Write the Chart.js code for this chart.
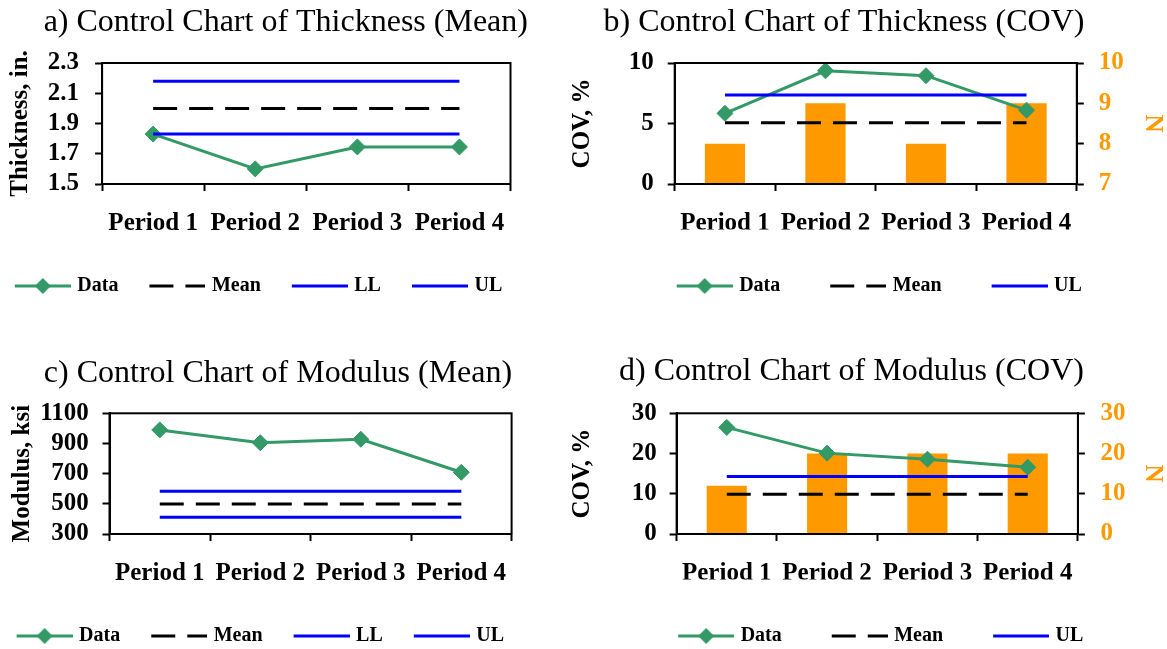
<!DOCTYPE html>
<html>
<head>
<meta charset="utf-8">
<title>Control Charts</title>
<script src="https://cdn.jsdelivr.net/npm/chart.js@4.4.1/dist/chart.umd.min.js"></script>
<style>
  html, body { margin: 0; padding: 0; background: #fff; overflow: hidden; }
  body { position: relative; width: 1167px; height: 649px; }
  canvas { position: absolute; }
</style>
</head>
<body>
<canvas id="chartA" width="608" height="306" style="left:-20px;top:0px"></canvas>
<canvas id="chartB" width="611" height="306" style="left:556px;top:0px"></canvas>
<canvas id="chartC" width="608" height="306" style="left:-20px;top:350px"></canvas>
<canvas id="chartD" width="611" height="306" style="left:556px;top:350px"></canvas>
<script>
// ---- data ----
const periods = ['Period 1', 'Period 2', 'Period 3', 'Period 4'];

// a) thickness, mean
const thickMean   = [1.83, 1.60, 1.745, 1.745];
const thickMeanCL = [2.00, 2.00, 2.00, 2.00];
const thickMeanLL = [1.83, 1.83, 1.83, 1.83];
const thickMeanUL = [2.18, 2.18, 2.18, 2.18];
const thickMeanTicks = [1.5, 1.7, 1.9, 2.1, 2.3];

// b) thickness, COV
const thickCov   = [5.84, 9.36, 8.95, 6.1];
const thickCovCL = [5.07, 5.07, 5.07, 5.07];
const thickCovUL = [7.36, 7.36, 7.36, 7.36];
const thickN     = [8, 9, 8, 9];
const thickCovTicks = [0, 5, 10];
const thickNTicks   = [7, 8, 9, 10];

// c) modulus, mean
const modMean   = [990, 905, 928, 709];
const modMeanCL = [499, 499, 499, 499];
const modMeanLL = [411, 411, 411, 411];
const modMeanUL = [583, 583, 583, 583];
const modMeanTicks = [300, 500, 700, 900, 1100];

// d) modulus, COV
const modCov   = [26.5, 20.1, 18.6, 16.6];
const modCovCL = [9.9, 9.9, 9.9, 9.9];
const modCovUL = [14.3, 14.3, 14.3, 14.3];
const modN     = [12, 20, 20, 20];
const modCovTicks = [0, 10, 20, 30];
const modNTicks   = [0, 10, 20, 30];

// ---- styling ----
const GREEN = '#339966', BLUE = '#0000FF', ORANGE = '#FF9900', BLACK = '#000000';
Chart.defaults.font.family = "'Liberation Serif', 'Times New Roman', serif";
Chart.defaults.color = BLACK;

// small legend swatch (line + marker), used as the legend pointStyle
function swatch(kind) {
    const c = document.createElement('canvas');
    c.width = 63; c.height = 20;
    const g = c.getContext('2d');
    g.lineWidth = 3;
    g.strokeStyle = kind === 'data' ? GREEN : (kind === 'mean' ? BLACK : BLUE);
    if (kind === 'mean') g.setLineDash([24, 12]);
    g.beginPath(); g.moveTo(7, 10); g.lineTo(63, 10); g.stroke();
    if (kind === 'data') {
        g.fillStyle = GREEN;
        g.beginPath();
        g.moveTo(35, 2); g.lineTo(43, 10); g.lineTo(35, 18); g.lineTo(27, 10);
        g.closePath(); g.fill();
    }
    return c;
}

function dataSet(values) {
    return {
        type: 'line', label: 'Data', data: values, yAxisID: 'y', order: 2,
        borderColor: GREEN, backgroundColor: GREEN, borderWidth: 3, tension: 0,
        pointStyle: 'rectRot', pointRadius: 8, pointBorderWidth: 1,
        pointBackgroundColor: GREEN, pointBorderColor: GREEN,
        swatch: swatch('data')
    };
}

function limitSet(label, values, kind) {
    return {
        type: 'line', label: label, data: values, yAxisID: 'y', order: kind === 'mean' ? 1 : 0,
        borderColor: kind === 'mean' ? BLACK : BLUE, borderWidth: 3,
        borderDash: kind === 'mean' ? [24, 12] : [], pointRadius: 0, tension: 0,
        swatch: swatch(kind)
    };
}

function countSet(values) {
    return {
        type: 'bar', label: 'N', data: values, yAxisID: 'yN', order: 3,
        backgroundColor: ORANGE, barPercentage: 0.4, categoryPercentage: 1
    };
}

function yAxis(pos, tickVals, fmt, width, titleText, titlePad, tickPad, color) {
    return {
        position: pos,
        min: tickVals[0],
        max: tickVals[tickVals.length - 1],
        afterBuildTicks: s => { s.ticks = tickVals.map(v => ({ value: v })); },
        afterFit: s => { s.width = width; },
        border: { display: true, color: BLACK, width: 2 },
        grid: { drawOnChartArea: false, tickLength: 7, tickWidth: 2, tickColor: BLACK },
        ticks: { color: color, padding: tickPad, autoSkip: false,
                 font: { size: 25, weight: 'bold' }, callback: v => fmt(v) },
        title: { display: true, text: titleText, color: color, padding: { top: titlePad, bottom: 0 },
                 font: { size: 25, weight: 'bold' } }
    };
}

// draws the plot-area box (top and right edges included)
const framePlugin = {
    id: 'frame',
    afterDatasetsDraw(chart) {
        const { ctx, chartArea: a } = chart;
        ctx.save();
        ctx.strokeStyle = BLACK;
        ctx.lineWidth = 2;
        ctx.strokeRect(a.left, a.top, a.right - a.left, a.bottom - a.top);
        ctx.restore();
    }
};

function makePanel(id, p) {
    const scales = {
        x: {
            offset: true,
            grid: { offset: true, drawOnChartArea: false, tickLength: 7, tickWidth: 2, tickColor: BLACK },
            border: { color: BLACK, width: 2 },
            ticks: { padding: 17.5, maxRotation: 0, autoSkip: false, font: { size: 25, weight: 'bold' } },
            afterFit: s => { s.height = p.xHeight; }
        },
        y: yAxis('left', p.yTicks, p.fmt, p.leftW, p.yTitle, p.yTitlePad, p.yTickPad, BLACK)
    };
    if (p.nTicks) {
        scales.yN = yAxis('right', p.nTicks, v => String(v), p.rightW, 'N', p.nTitlePad, p.nTickPad, ORANGE);
    } else {
        // empty right box, only keeps the layout in place
        scales.yR = { position: 'right', display: true, grid: { display: false },
                      border: { display: false }, ticks: { display: false },
                      afterFit: s => { s.width = p.rightW; } };
    }

    new Chart(document.getElementById(id), {
        type: 'line',
        data: { labels: periods, datasets: p.datasets },
        options: {
            responsive: false,
            devicePixelRatio: 1,
            animation: false,
            events: [],
            layout: { padding: { left: p.padL, right: p.padR, top: 0, bottom: 0 } },
            scales: scales,
            plugins: {
                tooltip: { enabled: false },
                title: { display: true, text: p.title, color: BLACK,
                         font: { size: 32, weight: 'normal' },
                         padding: { top: p.titleTop, bottom: p.titleBottom } },
                legend: {
                    position: 'bottom',
                    align: p.legendAlign,
                    labels: {
                        usePointStyle: true,
                        pointStyleWidth: 56,
                        padding: p.legendPad,
                        color: BLACK,
                        font: { size: 20, weight: 'bold' },
                        generateLabels: chart => chart.data.datasets
                            .map((ds, i) => ({ text: ds.label, pointStyle: ds.swatch, datasetIndex: i,
                                               hidden: false, lineWidth: 0, fontColor: BLACK,
                                               strokeStyle: 'rgba(0,0,0,0)', fillStyle: 'rgba(0,0,0,0)' }))
                            .filter(item => item.pointStyle)
                    }
                }
            }
        },
        plugins: [framePlugin]
    });
}

makePanel('chartA', {
    title: 'a) Control Chart of Thickness (Mean)',
    yTitle: 'Thickness, in.', yTicks: thickMeanTicks, fmt: v => v.toFixed(1),
    datasets: [dataSet(thickMean), limitSet('Mean', thickMeanCL, 'mean'),
               limitSet('LL', thickMeanLL, 'limit'), limitSet('UL', thickMeanUL, 'limit')],
    padL: 3.8, padR: 0.2, leftW: 118.3, rightW: 77.3,
    yTitlePad: 21.5, yTickPad: 16,
    titleTop: 3, titleBottom: 21.6, xHeight: 64.5,
    legendAlign: 'start', legendPad: 27.5
});

makePanel('chartB', {
    title: 'b) Control Chart of Thickness (COV)',
    yTitle: 'COV, %', yTicks: thickCovTicks, fmt: v => String(v),
    nTicks: thickNTicks,
    datasets: [dataSet(thickCov), limitSet('Mean', thickCovCL, 'mean'),
               limitSet('UL', thickCovUL, 'limit'), countSet(thickN)],
    padL: 3.6, padR: 38.6, leftW: 115.1, rightW: 51.6,
    yTitlePad: 8.4, yTickPad: 14, nTitlePad: -39.4, nTickPad: 15,
    titleTop: 3, titleBottom: 21.6, xHeight: 45.5,
    legendAlign: 'end', legendPad: 46.5
});

makePanel('chartC', {
    title: 'c) Control Chart of Modulus (Mean)',
    yTitle: 'Modulus, ksi', yTicks: modMeanTicks, fmt: v => String(v),
    datasets: [dataSet(modMean), limitSet('Mean', modMeanCL, 'mean'),
               limitSet('LL', modMeanLL, 'limit'), limitSet('UL', modMeanUL, 'limit')],
    padL: 5.6, padR: 17.6, leftW: 123.9, rightW: 58.8,
    yTitlePad: 21.6, yTickPad: 13.7,
    titleTop: 4.5, titleBottom: 20.4, xHeight: 64.5,
    legendAlign: 'start', legendPad: 27.5
});

makePanel('chartD', {
    title: 'd) Control Chart of Modulus (COV)',
    yTitle: 'COV, %', yTicks: modCovTicks, fmt: v => String(v),
    nTicks: modNTicks,
    datasets: [dataSet(modCov), limitSet('Mean', modCovCL, 'mean'),
               limitSet('UL', modCovUL, 'limit'), countSet(modN)],
    padL: 17.1, padR: 37.1, leftW: 103.5, rightW: 52,
    yTitlePad: -5.1, yTickPad: 12.9, nTitlePad: -37.9, nTickPad: 15.5,
    titleTop: 2.8, titleBottom: 22.1, xHeight: 45.5,
    legendAlign: 'end', legendPad: 46.5
});
</script>
</body>
</html>
